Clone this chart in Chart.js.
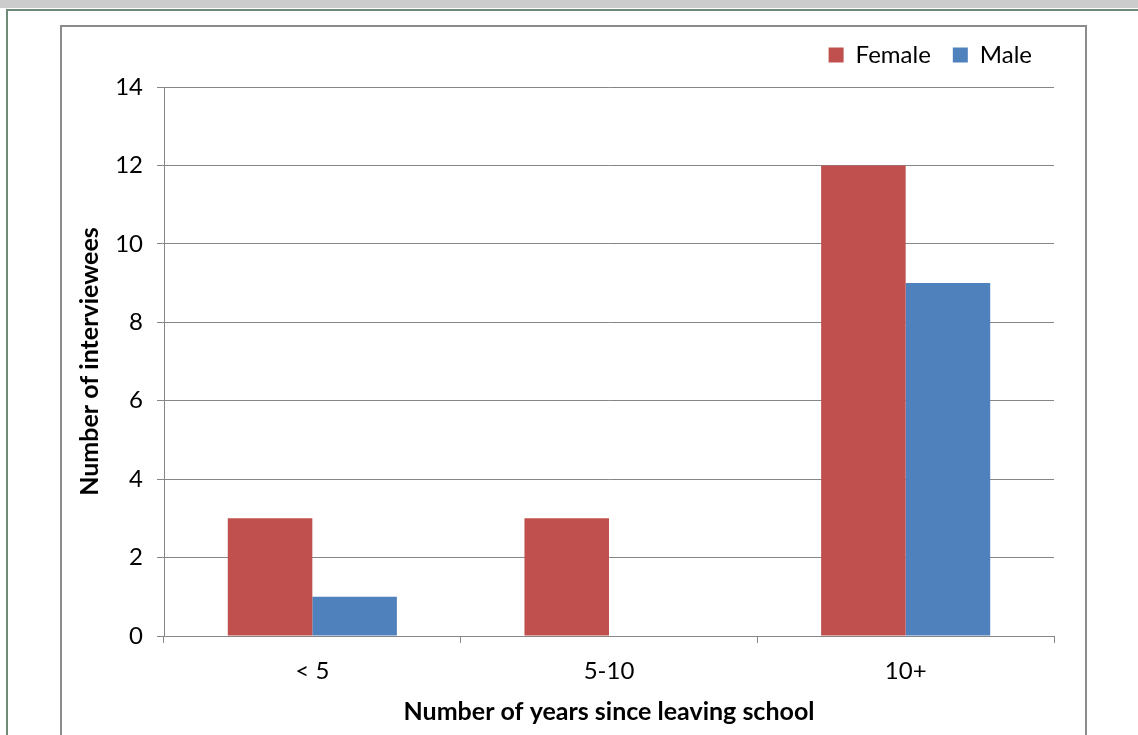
<!DOCTYPE html>
<html>
<head>
<meta charset="utf-8">
<script src="https://cdn.jsdelivr.net/npm/chart.js@4/dist/chart.umd.min.js"></script>
<style>
  body { margin: 0; width: 1138px; height: 735px; overflow: hidden; background: #fff; position: relative; }
  #strip { position: absolute; left: 0; top: 0; width: 1138px; height: 8px; background: #cccccc; }
  #outer { position: absolute; left: 6px; top: 9px; width: 1140px; height: 740px; border-left: 2px solid #6f8a77; border-top: 2px solid #6f8a77; }
  #frame { position: absolute; left: 60px; top: 25px; width: 1023px; height: 740px; border: 2px solid #8c8c8c; }
  #c { position: absolute; left: 0; top: 0; }
</style>
</head>
<body>
<div id="strip"></div>
<div id="outer"></div>
<div id="frame"></div>
<canvas id="c" width="1138" height="735"></canvas>
<script>
// chart data
const categories = ['< 5', '5-10', '10+'];
const female = [3, 3, 12];
const male = [1, 0, 9];
const yTicks = [0, 2, 4, 6, 8, 10, 12, 14];

const gridGray = '#868686';
const font = 'Lato, "Open Sans", sans-serif';
const fs = 24;

// push the plot down a bit below the legend
const legendMargin = {
  id: 'legendMargin',
  beforeInit(chart) {
    const fit = chart.legend.fit;
    chart.legend.fit = function () {
      fit.bind(chart.legend)();
      this.height += 10;
    };
  }
};

new Chart(document.getElementById('c'), {
  type: 'bar',
  data: {
    labels: categories,
    datasets: [
      { label: 'Female', data: female, backgroundColor: '#C0504D', categoryPercentage: 0.57, barPercentage: 1.0 },
      { label: 'Male', data: male, backgroundColor: '#4F81BD', categoryPercentage: 0.57, barPercentage: 1.0 }
    ]
  },
  options: {
    responsive: false,
    animation: false,
    layout: { padding: { left: 60, right: 84, top: 21, bottom: 8 } },
    plugins: {
      tooltip: { enabled: false },
      legend: {
        position: 'top',
        align: 'end',
        labels: {
          boxWidth: 15, boxHeight: 15, padding: 22,
          color: '#000',
          font: { family: font, size: fs }
        }
      }
    },
    scales: {
      x: {
        afterFit(scale) { scale.height = 91; },
        grid: { drawOnChartArea: false, drawTicks: true, tickLength: 7, color: gridGray, offset: true },
        border: { color: gridGray, width: 1 },
        ticks: { color: '#000', padding: 14, font: { family: font, size: fs } },
        title: {
          display: true, text: 'Number of years since leaving school',
          color: '#000', padding: { top: 0, bottom: 0 },
          font: { family: font, size: 25, weight: 'bold' }
        }
      },
      y: {
        min: 0, max: 14,
        afterFit(scale) { scale.width = 104; },
        afterBuildTicks(scale) { scale.ticks = yTicks.map(v => ({ value: v })); },
        grid: { color: gridGray, lineWidth: 1, tickLength: 7 },
        border: { color: gridGray, width: 1 },
        ticks: { color: '#000', padding: 14, font: { family: font, size: fs } },
        title: {
          display: true, text: 'Number of interviewees',
          color: '#000', padding: { top: 15, bottom: 0 },
          font: { family: font, size: 25, weight: 'bold' }
        }
      }
    }
  },
  plugins: [legendMargin]
});
</script>
</body>
</html>
